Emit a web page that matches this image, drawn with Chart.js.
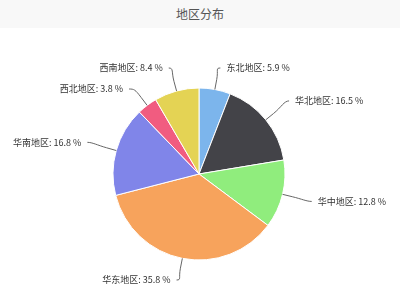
<!DOCTYPE html>
<html lang="zh-CN">
<head>
<meta charset="utf-8">
<title>地区分布</title>
<script src="https://cdn.jsdelivr.net/npm/chart.js@4/dist/chart.umd.min.js"></script>
<style>
  html, body { margin: 0; padding: 0; background: #fff; }
  #wrap   { position: relative; width: 400px; height: 302px; overflow: hidden; }
  #header {
    position: absolute; left: 0; top: 0; width: 400px; height: 28px;
    background: #f8f8f8; color: #555; text-align: center;
    font: 12px "Noto Sans CJK SC", "Noto Sans", sans-serif; line-height: 28px;
  }
  canvas  { position: absolute; left: 0; top: 0; }
</style>
</head>
<body>
<div id="wrap">
  <canvas id="pie" width="400" height="302"></canvas>
  <div id="header">地区分布</div>
</div>
<script>
'use strict';
/* global Chart */

// ─── Data ─────────────────────────────────────────────────────────────────────
const regions = ['东北地区', '华北地区', '华中地区', '华东地区', '华南地区', '西北地区', '西南地区'];
const shares  = [5.9, 16.5, 12.8, 35.8, 16.8, 3.8, 8.4];
const colours = ['#7cb5ec', '#434348', '#90ed7d', '#f7a35c', '#8085e9', '#f15c80', '#e4d354'];

// ─── Outside labels with soft connectors ──────────────────────────────────────
const LABEL_FONT = '9px "Noto Sans CJK SC", "Noto Sans", sans-serif';
const LABEL_DIST = 30;   // label anchor distance outside the pie
const LABEL_GAP  = 21;   // min vertical spacing between labels on one side

const outsideLabels = {
  id: 'outsideLabels',
  afterDraw(chart) {
    const ctx  = chart.ctx;
    const arcs = chart.getDatasetMeta(0).data;
    if (!arcs.length) return;

    const cx = arcs[0].x, cy = arcs[0].y, r = arcs[0].outerRadius;
    const R  = r + LABEL_DIST;
    const minY = cy - r - 20, maxY = cy + r + 20;

    // natural anchor positions
    const items = arcs.map((arc, i) => {
      const mid = (arc.startAngle + arc.endAngle) / 2;
      return {
        i, mid,
        right: Math.cos(mid) >= 0,
        x: cx + Math.cos(mid) * R,
        y: Math.min(maxY, Math.max(minY, cy + Math.sin(mid) * R)),
      };
    });

    // push overlapping labels apart, one side at a time
    [true, false].forEach((side) => {
      const list = items.filter((it) => it.right === side).sort((a, b) => a.y - b.y);
      for (let k = 1; k < list.length; k++) {
        if (list[k].y - list[k - 1].y < LABEL_GAP) list[k].y = list[k - 1].y + LABEL_GAP;
      }
    });

    ctx.save();
    ctx.font         = LABEL_FONT;
    ctx.textBaseline = 'middle';
    items.forEach((it) => {
      const cos = Math.cos(it.mid), sin = Math.sin(it.mid);
      const bx  = cx + cos * r,        by  = cy + sin * r;         // base on the pie edge
      const b2x = cx + cos * (r + 10), b2y = cy + sin * (r + 10);  // break just outside
      const dir = it.right ? 1 : -1;

      ctx.beginPath();
      ctx.moveTo(it.x, it.y);
      ctx.bezierCurveTo(it.x - dir * 5, it.y, 2 * b2x - bx, 2 * b2y - by, b2x, b2y);
      ctx.lineTo(bx, by);
      ctx.strokeStyle = '#666';
      ctx.lineWidth   = 1;
      ctx.stroke();

      ctx.fillStyle = '#333';
      ctx.textAlign = it.right ? 'left' : 'right';
      ctx.fillText(`${regions[it.i]}: ${shares[it.i].toFixed(1)} %`, it.x + dir * 6, it.y);
    });
    ctx.restore();
  },
};

// ─── Chart ────────────────────────────────────────────────────────────────────
new Chart(document.getElementById('pie'), {
  type: 'pie',
  data: {
    labels: regions,
    datasets: [{
      data: shares,
      backgroundColor: colours,
      borderColor: '#ffffff',
      borderWidth: 1,
    }],
  },
  options: {
    responsive: false,
    animation: false,
    radius: 86,
    layout: { padding: { top: 46, right: 2, bottom: 0, left: 0 } },
    plugins: {
      legend:  { display: false },
      tooltip: { enabled: false },
    },
  },
  plugins: [outsideLabels],
});
</script>
</body>
</html>
